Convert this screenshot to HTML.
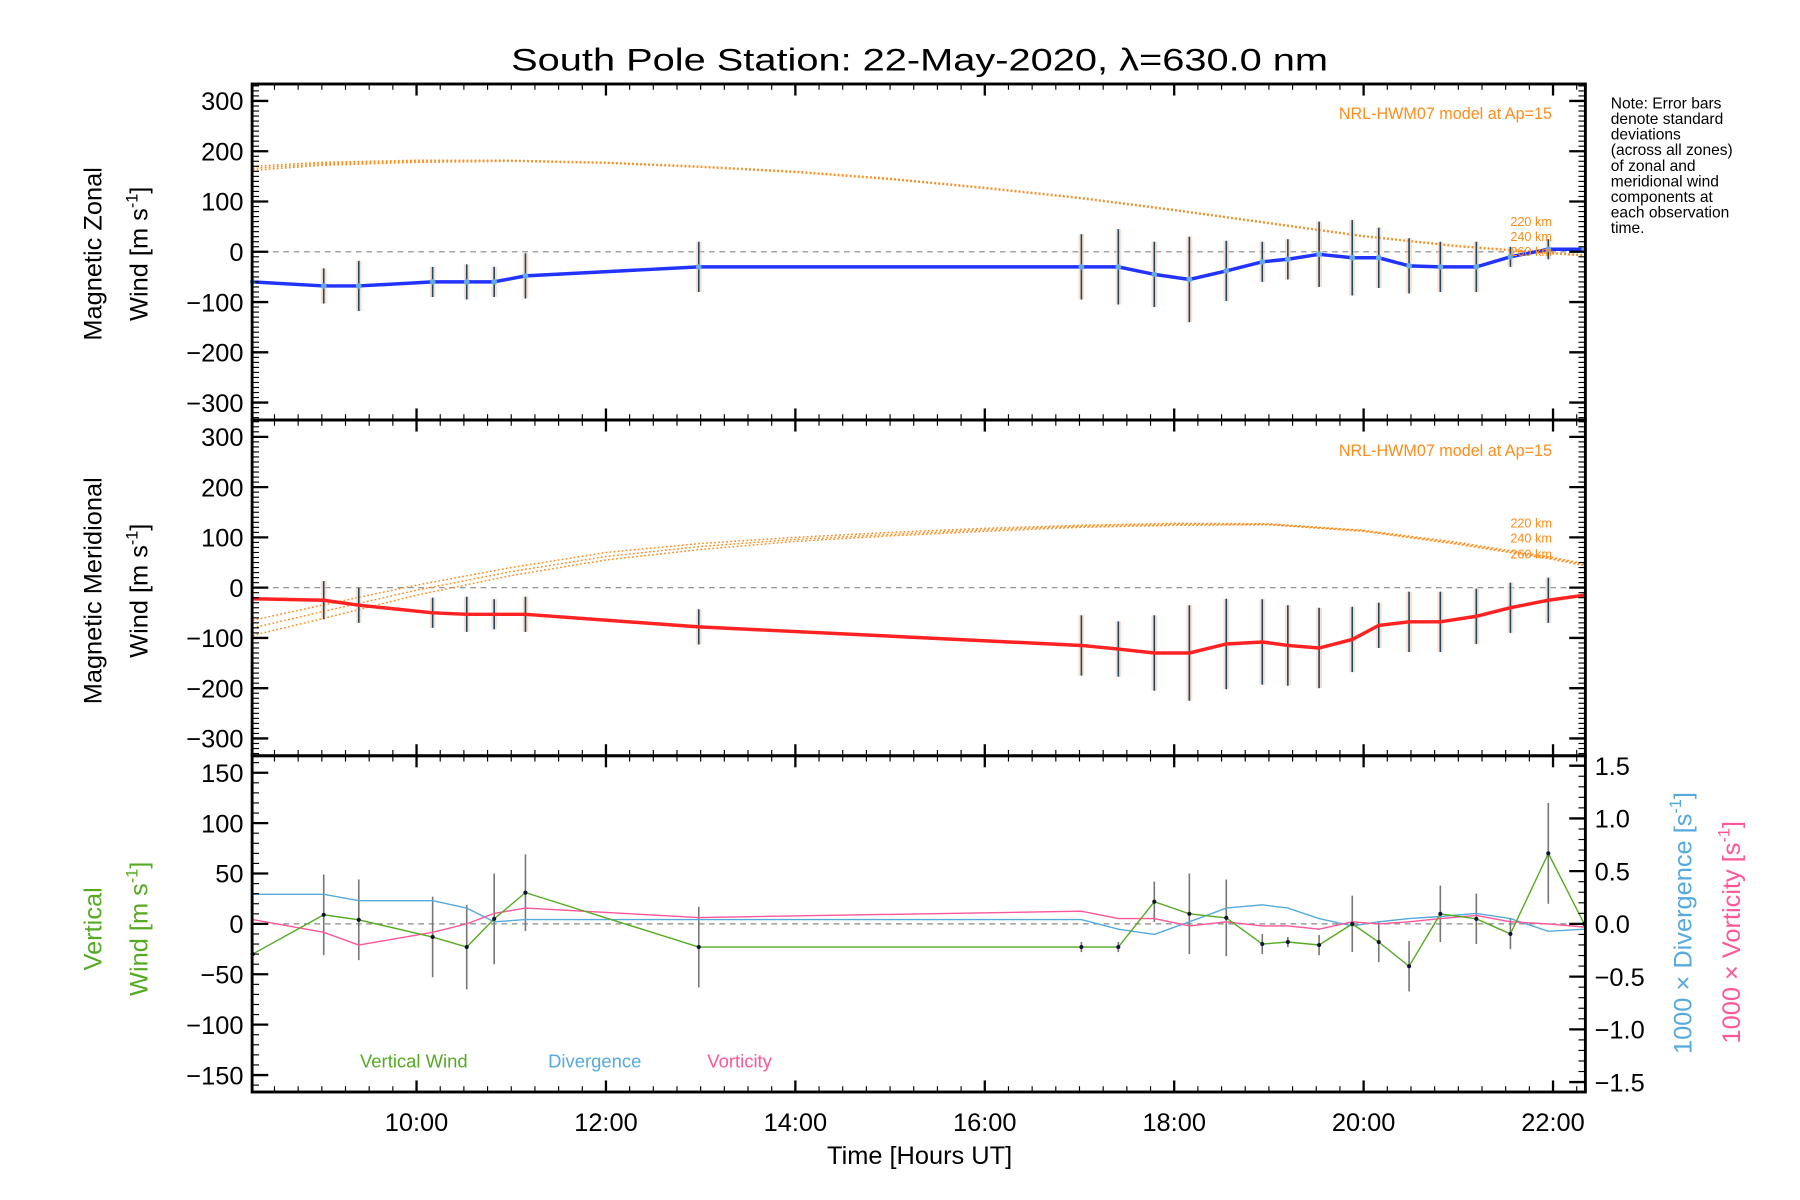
<!DOCTYPE html>
<html><head><meta charset="utf-8"><style>
html,body{margin:0;padding:0;background:#fff}
svg{display:block}
text{font-family:"Liberation Sans",sans-serif}
</style></head><body>
<svg id="chart" width="1800" height="1200" viewBox="0 0 1560 1040" xmlns="http://www.w3.org/2000/svg">
<rect width="1560" height="1040" fill="#fff"/>
<text x="797" y="61" font-size="27" text-anchor="middle" textLength="708" lengthAdjust="spacingAndGlyphs">South Pole Station: 22-May-2020, λ=630.0 nm</text>
<g id="layer"></g>
<text font-size="13.5" x="1396" y="94">
<tspan x="1396" dy="0">Note: Error bars</tspan><tspan x="1396" dy="13.5">denote standard</tspan><tspan x="1396" dy="13.5">deviations</tspan><tspan x="1396" dy="13.5">(across all zones)</tspan><tspan x="1396" dy="13.5">of zonal and</tspan><tspan x="1396" dy="13.5">meridional wind</tspan><tspan x="1396" dy="13.5">components at</tspan><tspan x="1396" dy="13.5">each observation</tspan><tspan x="1396" dy="13.5">time.</tspan></text>
<text x="1345" y="103" font-size="14" fill="#ff8c1a" text-anchor="end">NRL-HWM07 model at Ap=15</text>
<text x="1345" y="395" font-size="14" fill="#ff8c1a" text-anchor="end">NRL-HWM07 model at Ap=15</text>
<g font-size="11" fill="#ff8c1a" text-anchor="end">
<text x="1345" y="196">220 km</text>
<text x="1345" y="209">240 km</text>
<text x="1345" y="222">260 km</text>
<text x="1345" y="457">220 km</text>
<text x="1345" y="470">240 km</text>
<text x="1345" y="484">260 km</text>
</g>
<text font-size="22" text-anchor="middle" transform="translate(88,220) rotate(-90)">Magnetic Zonal</text>
<text font-size="22" text-anchor="middle" transform="translate(128,220) rotate(-90)">Wind [m s<tspan font-size="14" dy="-9">-1</tspan><tspan dy="9">]</tspan></text>
<text font-size="22" text-anchor="middle" transform="translate(88,512) rotate(-90)">Magnetic Meridional</text>
<text font-size="22" text-anchor="middle" transform="translate(128,512) rotate(-90)">Wind [m s<tspan font-size="14" dy="-9">-1</tspan><tspan dy="9">]</tspan></text>
<text font-size="22" fill="#55aa22" text-anchor="middle" transform="translate(88,805) rotate(-90)">Vertical</text>
<text font-size="22" fill="#55aa22" text-anchor="middle" transform="translate(128,805) rotate(-90)">Wind [m s<tspan font-size="14" dy="-9">-1</tspan><tspan dy="9">]</tspan></text>
<text font-size="22" fill="#55aadd" text-anchor="middle" transform="translate(1466,800) rotate(-90)">1000 × Divergence [s<tspan font-size="14" dy="-9">-1</tspan><tspan dy="9">]</tspan></text>
<text font-size="22" fill="#ff5599" text-anchor="middle" transform="translate(1508,808) rotate(-90)">1000 × Vorticity [s<tspan font-size="14" dy="-9">-1</tspan><tspan dy="9">]</tspan></text>
<text x="312" y="925" font-size="16" fill="#55aa22">Vertical Wind</text>
<text x="475" y="925" font-size="16" fill="#55aadd">Divergence</text>
<text x="613" y="925" font-size="16" fill="#ff5599">Vorticity</text>
<text x="797" y="1009" font-size="22" text-anchor="middle">Time [Hours UT]</text>
</svg>
<script>
const times=[8.27,9.02,9.39,10.17,10.53,10.82,11.15,12.98,17.02,17.41,17.79,18.16,18.55,18.93,19.2,19.53,19.88,20.16,20.48,20.81,21.19,21.55,21.95,22.33];
const zonal=[-60,-68,-68,-60,-60,-60,-48,-30,-30,-30,-45,-55,-38,-20,-15,-5,-12,-12,-28,-30,-30,-10,5,5];
const zonalErr=[0,35,50,30,35,30,45,50,65,75,65,85,60,40,40,65,75,60,55,50,50,20,20,0];
const merid=[-22,-25,-35,-50,-53,-53,-53,-78,-115,-122,-130,-130,-112,-108,-115,-120,-103,-75,-68,-68,-57,-40,-25,-15];
const meridErr=[0,38,35,30,35,30,35,35,60,55,75,95,90,85,80,80,65,45,60,60,55,50,45,0];
const vert=[-30,9,4,-13,-23,5,31,-23,-23,-23,22,10,6,-20,-18,-21,0,-18,-42,10,5,-10,70,0];
const vertErr=[0,40,40,40,42,45,38,40,5,5,20,40,38,10,5,10,28,20,25,28,25,15,50,0];
const diverg=[0.28,0.28,0.22,0.22,0.15,0.02,0.04,0.04,0.04,-0.05,-0.1,0.02,0.15,0.18,0.15,0.05,-0.02,0.02,0.05,0.07,0.1,0.05,-0.07,-0.05];
const vortic=[0.04,-0.08,-0.2,-0.08,0.0,0.1,0.15,0.06,0.12,0.05,0.05,-0.02,0.02,-0.02,-0.02,-0.05,0.02,0.0,0.02,0.05,0.08,0.02,0.0,-0.03];
const modelTimes=[8.27,9,10,11,12,13,14,15,16,17,18,19,20,21,22,22.33];
const modelZonal220=[170,178,182,182,178,170,160,146,128,108,84,58,32,12,-2,-6];
const modelZonal240=[166,175,180,181,177,169,159,145,127,107,83,57,31,11,-3,-7];
const modelZonal260=[162,172,178,180,176,168,158,144,126,106,82,56,30,10,-4,-8];
const modelMerid220=[-65,-35,5,40,70,88,100,110,118,124,128,127,114,90,60,48];
const modelMerid240=[-80,-48,-5,32,62,82,96,106,115,122,126,126,113,88,58,46];
const modelMerid260=[-95,-62,-15,24,55,76,92,103,112,120,124,125,112,86,56,44];
const xTickLabels=["10:00","12:00","14:00","16:00","18:00","20:00","22:00"];
const xTickHours=[10,12,14,16,18,20,22];
const windTicks=[300,200,100,0,-100,-200,-300];
const vertTicks=[150,100,50,0,-50,-100,-150];
const rightTicks=[1.5,1.0,0.5,0.0,-0.5,-1.0,-1.5];

const NS="http://www.w3.org/2000/svg";
const layer=document.getElementById('layer');
const L=218.5,R=1374;
const X=t=>361+(t-10)*82.08;
const P1={top:72.8,bot:364,zero:218.2,k:130.7/300};
const P2={top:364,bot:655,zero:509.3,k:130.7/300};
const P3={top:655,bot:946.4,zero:800.7,k:131/150};
const Yf=p=>v=>p.zero-v*p.k;
const y1=Yf(P1),y2=Yf(P2),y3=Yf(P3);
const yr=v=>800.7-v*91.4;
function mk(tag,attrs,parent){const e=document.createElementNS(NS,tag);for(const k in attrs)e.setAttribute(k,attrs[k]);(parent||layer).appendChild(e);return e;}
function poly(xs,ys,stroke,w,dash,name){
  const pts=xs.map((t,i)=>Math.min(R,X(t)).toFixed(1)+','+ys[i].toFixed(1)).join(' ');
  const e=mk('polyline',{points:pts,fill:'none',stroke:stroke,'stroke-width':w});
  if(dash)e.setAttribute('stroke-dasharray',dash);
  
  
  return e;
}
[[P1,y1],[P2,y2],[P3,y3]].forEach(([p,y],i)=>{
  const e=mk('line',{x1:L,x2:R,y1:y(0),y2:y(0),stroke:'#888','stroke-width':1,'stroke-dasharray':'5,4'});
  
  
});
[[modelZonal220,y1],[modelZonal240,y1],[modelZonal260,y1],[modelMerid220,y2],[modelMerid240,y2],[modelMerid260,y2]].forEach(([arr,y])=>{
  poly(modelTimes,arr.map(y),'#ff8c1a',1.3,'1.5,2','model-curve');
});
function errbars(vals,errs,y,color,bg,name){
  times.forEach((t,i)=>{
    if(!errs[i])return;
    if(bg){
      const b=mk('rect',{x:X(t)-2.5,y:y(vals[i]+errs[i]),width:5,height:y(vals[i]-errs[i])-y(vals[i]+errs[i]),fill:bg,opacity:0.55});
      
      
    }
    const e=mk('line',{x1:X(t),x2:X(t),y1:y(vals[i]+errs[i]),y2:y(vals[i]-errs[i]),stroke:color,'stroke-width':1.4});
    
    
  });
}
errbars(zonal,zonalErr,y1,'#1a4a6a','#f5c8a8','zonal-error-bar');
errbars(merid,meridErr,y2,'#1a4a6a','#f5c8a8','meridional-error-bar');
errbars(vert,vertErr,y3,'#777',null,'vertical-error-bar');
poly(times,zonal.map(y1),'#2233ff',3,null,'zonal-wind-line');
poly(times,merid.map(y2),'#ff2222',3,null,'meridional-wind-line');
poly(times,diverg.map(yr),'#55aadd',1.2,null,'divergence-line');
poly(times,vortic.map(yr),'#ff5599',1.2,null,'vorticity-line');
poly(times,vert.map(y3),'#55aa22',1.2,null,'vertical-wind-line');
times.forEach((t,i)=>{
  const a=mk('circle',{cx:Math.min(R,X(t)),cy:y1(zonal[i]),r:2.5,fill:'#66aadd'});
  
  
  const b=mk('circle',{cx:Math.min(R,X(t)),cy:y3(vert[i]),r:1.8,fill:'#113'});
  
  
});
[P1,P2,P3].forEach((p,pi)=>{
  const f=mk('rect',{x:L,y:p.top,width:R-L,height:p.bot-p.top,fill:'none',stroke:'#000','stroke-width':2.5});
  
  
  xTickHours.forEach(h=>{
    mk('line',{x1:X(h),x2:X(h),y1:p.bot,y2:p.bot-10,stroke:'#000','stroke-width':2});
    mk('line',{x1:X(h),x2:X(h),y1:p.top,y2:p.top+10,stroke:'#000','stroke-width':2});
  });
  for(let m=8.5;m<22.3;m+=0.25){
    mk('line',{x1:X(m),x2:X(m),y1:p.bot,y2:p.bot-5,stroke:'#000','stroke-width':1});
    mk('line',{x1:X(m),x2:X(m),y1:p.top,y2:p.top+5,stroke:'#000','stroke-width':1});
  }
  const y=[y1,y2,y3][pi];
  const ticks=pi<2?windTicks:vertTicks;
  const minor=10;
  const lim=pi<2?330:165;
  for(let v=-lim+(lim%minor);v<=lim;v+=minor){
    const yy=y(v); if(yy<p.top+1||yy>p.bot-1)continue;
    mk('line',{x1:L,x2:L+6,y1:yy,y2:yy,stroke:'#000','stroke-width':1});
    if(pi<2) mk('line',{x1:R,x2:R-6,y1:yy,y2:yy,stroke:'#000','stroke-width':1});
  }
  ticks.forEach(v=>{
    mk('line',{x1:L,x2:L+14,y1:y(v),y2:y(v),stroke:'#000','stroke-width':2});
    if(pi<2) mk('line',{x1:R,x2:R-14,y1:y(v),y2:y(v),stroke:'#000','stroke-width':2});
    const t=mk('text',{x:211,y:y(v)+8,'font-size':22,'text-anchor':'end'});
    t.textContent=(v<0?'−':'')+Math.abs(v);
    
    
  });
});
for(let v=-1.5;v<=1.55;v+=0.1){
  mk('line',{x1:R,x2:R-6,y1:yr(v),y2:yr(v),stroke:'#000','stroke-width':1});
}
rightTicks.forEach(v=>{
  mk('line',{x1:R,x2:R-14,y1:yr(v),y2:yr(v),stroke:'#000','stroke-width':2});
  const t=mk('text',{x:1382,y:yr(v)+8,'font-size':22});
  t.textContent=(v<0?'−':'')+Math.abs(v).toFixed(1);
  
  
});
xTickHours.forEach((h,i)=>{
  const t=mk('text',{x:X(h),y:980,'font-size':22,'text-anchor':'middle'});
  t.textContent=xTickLabels[i];
  
  
});
</script>
</body></html>
